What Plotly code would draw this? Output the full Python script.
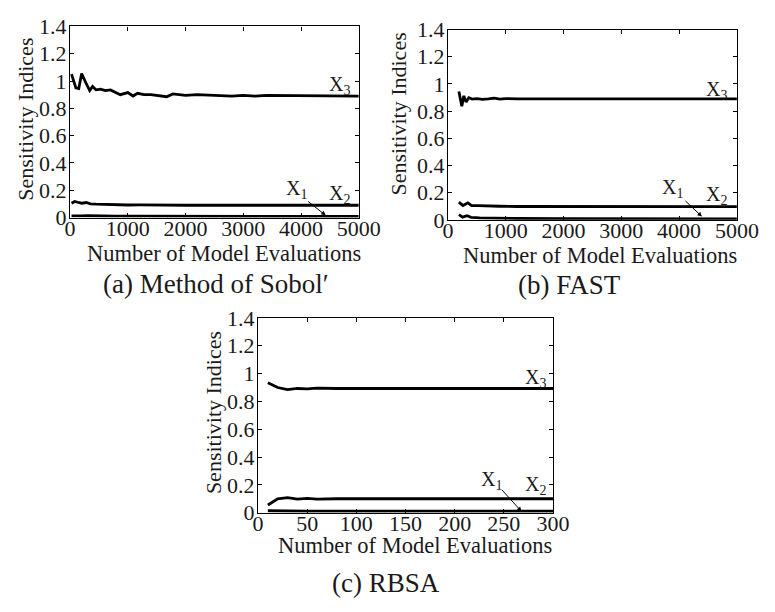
import plotly.graph_objects as go

# ---------------- data ----------------
# (a) Method of Sobol'
sobol_x3_x = [25, 100, 150, 200, 280, 340, 390, 450, 530, 610, 700, 750, 870, 1000, 1090, 1170, 1280,
              1400, 1500, 1670, 1780, 1900, 2000, 2200, 2400, 2600, 2800, 3000, 3200, 3400, 3600, 3800,
              4000, 4200, 4400, 4600, 4800, 5000]
sobol_x3_y = [1.05, 0.95, 0.945, 1.055, 0.98, 0.93, 0.96, 0.935, 0.94, 0.93, 0.935, 0.925, 0.90, 0.915,
              0.89, 0.91, 0.90, 0.90, 0.895, 0.885, 0.905, 0.90, 0.895, 0.90, 0.895, 0.895, 0.89, 0.895,
              0.89, 0.895, 0.895, 0.89, 0.89, 0.895, 0.89, 0.89, 0.89, 0.89]
sobol_x2_x = [25, 80, 130, 200, 280, 350, 450, 600, 800, 1000, 1200, 1500, 2000, 3000, 4000, 5000]
sobol_x2_y = [0.105, 0.118, 0.112, 0.105, 0.11, 0.1, 0.098, 0.095, 0.093, 0.092, 0.093, 0.091, 0.09,
              0.09, 0.09, 0.09]
sobol_x1_x = [25, 100, 200, 300, 500, 800, 1200, 2000, 3000, 4000, 5000]
sobol_x1_y = [0.012, 0.014, 0.012, 0.013, 0.011, 0.01, 0.01, 0.009, 0.008, 0.008, 0.008]

# (b) FAST
fast_x3_x = [190, 240, 275, 315, 360, 420, 500, 600, 700, 800, 900, 1000, 1200, 1500, 2000, 3000, 4000, 5000]
fast_x3_y = [0.945, 0.835, 0.912, 0.866, 0.898, 0.888, 0.892, 0.886, 0.89, 0.895, 0.888, 0.892, 0.89,
             0.89, 0.89, 0.89, 0.89, 0.89]
fast_x2_x = [190, 260, 345, 410, 520, 700, 900, 1200, 2000, 5000]
fast_x2_y = [0.13, 0.105, 0.125, 0.105, 0.104, 0.1, 0.1, 0.098, 0.097, 0.097]
fast_x1_x = [190, 255, 330, 400, 550, 800, 1200, 2000, 3000, 5000]
fast_x1_y = [0.038, 0.02, 0.03, 0.018, 0.015, 0.012, 0.01, 0.008, 0.007, 0.007]

# (c) RBSA
rbsa_x3_x = [10, 20, 30, 40, 50, 60, 80, 100, 130, 150, 200, 250, 300]
rbsa_x3_y = [0.935, 0.9, 0.885, 0.893, 0.89, 0.895, 0.893, 0.893, 0.89, 0.893, 0.893, 0.893, 0.893]
rbsa_x2_x = [10, 20, 30, 40, 50, 60, 80, 100, 150, 200, 250, 300]
rbsa_x2_y = [0.055, 0.1, 0.108, 0.097, 0.103, 0.098, 0.1, 0.1, 0.1, 0.1, 0.098, 0.1]
rbsa_x1_x = [10, 20, 50, 100, 200, 300]
rbsa_x1_y = [0.014, 0.012, 0.011, 0.011, 0.011, 0.011]

y_ticks = [0, 0.2, 0.4, 0.6, 0.8, 1.0, 1.2, 1.4]
y_ticktext = ["0", "0.2", "0.4", "0.6", "0.8", "1", "1.2", "1.4"]
x_ticks_ab = [0, 1000, 2000, 3000, 4000, 5000]
x_ticks_c = [0, 50, 100, 150, 200, 250, 300]

captions = ["(a) Method of Sobol′", "(b) FAST", "(c) RBSA"]
x_title = "Number of Model Evaluations"
y_title = "Sensitivity Indices"

# ---------------- figure ----------------
W, H = 775, 612
SERIF = "Liberation Serif, Times New Roman, serif"
INK = "#1a1a1a"
LW = 2.8

fig = go.Figure()

panels = [
    ("x", "y", [(sobol_x1_x, sobol_x1_y), (sobol_x2_x, sobol_x2_y), (sobol_x3_x, sobol_x3_y)]),
    ("x2", "y2", [(fast_x1_x, fast_x1_y), (fast_x2_x, fast_x2_y), (fast_x3_x, fast_x3_y)]),
    ("x3", "y3", [(rbsa_x1_x, rbsa_x1_y), (rbsa_x2_x, rbsa_x2_y), (rbsa_x3_x, rbsa_x3_y)]),
]
for xa, ya, series in panels:
    for sx, sy in series:
        fig.add_trace(go.Scatter(x=sx, y=sy, mode="lines", xaxis=xa, yaxis=ya,
                                 line=dict(color="black", width=LW), showlegend=False,
                                 hoverinfo="skip"))

def px2x(p):
    return p / W

def px2y(p):
    return 1 - p / H

# axis domains (pixel boxes)
boxes = {
    "a": (66.5, 366.0, 15.0, 214.3),
    "b": (458.5, 758.3, 18.3, 216.7),
    "c": (261.5, 567.5, 319.0, 522.0),
}

def axis_common():
    return dict(showline=True, linecolor="black", linewidth=1.3, mirror="ticks",
                ticks="inside", ticklen=4, tickwidth=1, tickcolor="black",
                showgrid=False, zeroline=False,
                tickfont=dict(family=SERIF, size=22, color=INK))

layout_axes = {}
for key, xa, ya, xr, xt in [("a", "xaxis", "yaxis", [0, 5000], x_ticks_ab),
                            ("b", "xaxis2", "yaxis2", [0, 5000], x_ticks_ab),
                            ("c", "xaxis3", "yaxis3", [0, 300], x_ticks_c)]:
    l, r, t, b = boxes[key]
    anchor_y = ya.replace("axis", "")
    anchor_x = xa.replace("axis", "")
    layout_axes[xa] = dict(axis_common(), domain=[px2x(l), px2x(r)], range=xr,
                           tickvals=xt, anchor=anchor_y, ticklabelstandoff=-9)
    layout_axes[ya] = dict(axis_common(), domain=[px2y(b), px2y(t)], range=[0, 1.4],
                           tickvals=y_ticks, ticktext=y_ticktext, anchor=anchor_x,
                           ticklabelstandoff=-2)

fig.update_layout(**layout_axes)

annotations = []
lab_font = dict(family=SERIF, size=20, color=INK)

# X labels per panel: (xref, yref, x3pos, x1pos, x2pos, arrow head, arrow offset)
label_specs = [
    ("x", "y", (4666, 0.965), (3915, 0.205), (4666, 0.17), (4427, 0.016), (-19, -15)),
    ("x2", "y2", (4650, 0.95), (3883, 0.23), (4650, 0.18), (4395, 0.024), (-18, -17)),
    ("x3", "y3", (282, 0.965), (237, 0.228), (282, 0.192), (268, 0.009), (-21, -23)),
]
for xr_, yr_, p3, p1, p2, head, off in label_specs:
    for txt, p in [("X<sub>3</sub>", p3), ("X<sub>1</sub>", p1), ("X<sub>2</sub>", p2)]:
        annotations.append(dict(x=p[0], y=p[1], xref=xr_, yref=yr_, text=txt,
                                showarrow=False, font=lab_font,
                                xanchor="center", yanchor="middle"))
    annotations.append(dict(x=head[0], y=head[1], xref=xr_, yref=yr_, text="",
                            showarrow=True, arrowhead=2, arrowsize=0.9, arrowwidth=1,
                            arrowcolor="black", ax=off[0], ay=off[1]))

xt_font = dict(family=SERIF, size=22.5, color=INK)
yt_font = dict(family=SERIF, size=22, color=INK)
for (cx, cy) in [(226, 252), (616.7, 254), (424, 556)]:
    annotations.append(dict(x=px2x(cx), y=px2y(cy), xref="paper", yref="paper",
                            text=x_title, showarrow=False, font=xt_font,
                            xanchor="center", yanchor="middle"))
for (cx, cy) in [(20, 112), (407.5, 106), (216, 418)]:
    annotations.append(dict(x=px2x(cx), y=px2y(cy), xref="paper", yref="paper",
                            text=y_title, showarrow=False, font=yt_font, textangle=-90,
                            xanchor="center", yanchor="middle"))

cap_font = dict(family=SERIF, size=27, color=INK)
for txt, (cx, cy) in zip(captions, [(217.5, 284), (585, 285), (394, 595)]):
    annotations.append(dict(x=px2x(cx), y=px2y(cy), xref="paper", yref="paper",
                            text=txt, showarrow=False, font=cap_font,
                            xanchor="center", yanchor="middle"))

fig.update_layout(width=W, height=H, margin=dict(l=0, r=0, t=0, b=0),
                  paper_bgcolor="white", plot_bgcolor="white",
                  annotations=annotations, showlegend=False)

fig.write_html("out.html")
